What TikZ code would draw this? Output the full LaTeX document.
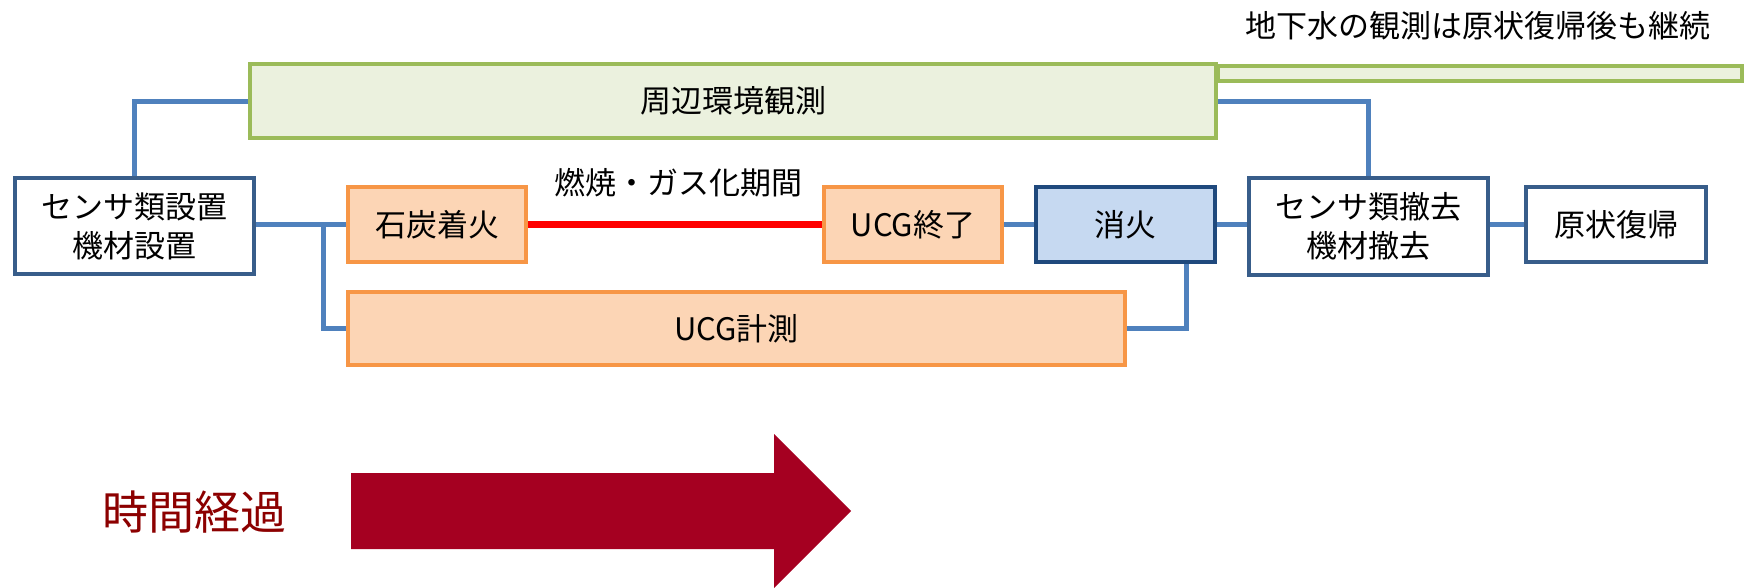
\documentclass[tikz,border=0pt]{standalone}
\usepackage{fontspec}
\setmainfont{Noto Sans CJK JP}
\usetikzlibrary{backgrounds}
\definecolor{conn}{HTML}{4F81BD}
\definecolor{gborder}{HTML}{9BBB59}
\definecolor{gfill}{HTML}{EBF1DE}
\definecolor{oborder}{HTML}{F79646}
\definecolor{ofill}{HTML}{FCD5B5}
\definecolor{bborder}{HTML}{385D8A}
\definecolor{fborder}{HTML}{1F497D}
\definecolor{ffill}{HTML}{C6D9F1}
\definecolor{arrowred}{HTML}{A50021}
\definecolor{timered}{HTML}{8C0000}
\begin{document}
\begin{tikzpicture}[x=1pt,y=-1pt,
  txt/.style={font=\fontsize{31}{39}\selectfont, align=center, inner sep=0pt},
  basebox/.style={txt, line width=4pt, rectangle},
  whitebox/.style={basebox, draw=bborder, fill=white},
  orangebox/.style={basebox, draw=oborder, fill=ofill},
  greenbox/.style={basebox, draw=gborder, fill=gfill},
  firebox/.style={basebox, draw=fborder, fill=ffill, line width=4.5pt},
  link/.style={draw=conn, line width=5pt},
  burn/.style={draw=red, line width=7pt}]
\useasboundingbox (0,0) rectangle (1744,587);

% green extension bar
\node[greenbox, minimum width=524pt, minimum height=15pt, anchor=north west] (bar) at (1216,64) {};
\node[greenbox, minimum width=966pt, minimum height=74pt] (env) at (733,101) {周辺環境観測};
\node[txt] (note) at (1478,26) {地下水の観測は原状復帰後も継続};

\node[whitebox, minimum width=239pt, minimum height=96pt] (setup) at (134.5,226) {センサ類設置\\機材設置};
\node[orangebox, minimum width=178pt, minimum height=75pt] (ignite) at (437,224.5) {石炭着火};
\node[orangebox, minimum width=178pt, minimum height=75pt] (ucgend) at (913,224.5) {UCG終了};
\node[firebox, minimum width=179pt, minimum height=75pt] (fire) at (1125.5,224.5) {消火};
\node[whitebox, minimum width=239pt, minimum height=97pt] (remove) at (1368.5,226.5) {センサ類撤去\\機材撤去};
\node[whitebox, minimum width=180pt, minimum height=75pt] (restore) at (1616,224.5) {原状復帰};
\node[orangebox, minimum width=777pt, minimum height=73pt] (ucg) at (736.5,328.5) {UCG計測};
\node[txt] (period) at (678,183) {燃焼・ガス化期間};

\coordinate (j1) at (323,224.5);
\coordinate (j2) at (1186,264);

% connectors, behind the boxes
\begin{scope}[on background layer]
\draw[link] (setup.center) |- (env.west);
\draw[link] (setup.center |- ignite.west) -- (ignite.center);
\draw[link] (j1) |- (ucg.center);
\draw[link] (ucgend.center) -- (fire.center);
\draw[link] (fire.center) -- (remove.center |- fire.east);
\draw[link] (remove.center |- restore.west) -- (restore.center);
\draw[link] (ucg.center) -| (j2);
\draw[link] (env.center) -| (remove.center);
\draw[burn] (ignite.center) -- (ucgend.center);
\end{scope}

% time arrow
\fill[arrowred] (351,473) -- (774,473) -- (774,434) -- (851,511) -- (774,588) -- (774,549) -- (351,549) -- cycle;
\node[txt, font=\fontsize{46}{50}\selectfont, text=timered] (time) at (194,512) {時間経過};
\end{tikzpicture}
\end{document}
